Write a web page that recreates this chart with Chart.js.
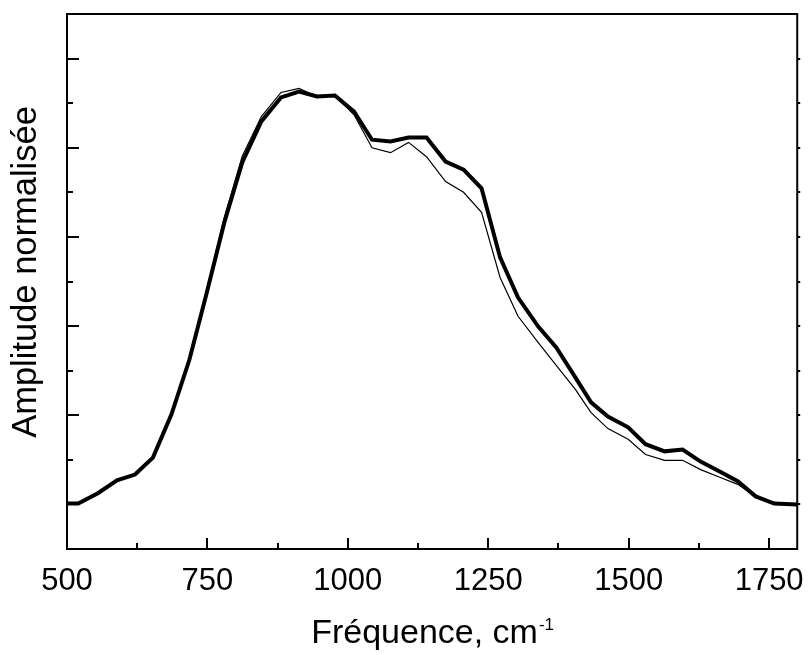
<!DOCTYPE html>
<html>
<head>
<meta charset="utf-8">
<script src="https://cdn.jsdelivr.net/npm/chart.js@4.4.1/dist/chart.umd.min.js"></script>
<style>
  html, body { margin: 0; padding: 0; background: #fff; }
  #wrap { width: 810px; height: 655px; }
</style>
</head>
<body>
<div id="wrap"><canvas id="myChart" width="810" height="655"></canvas></div>
<script>
// wavenumbers (cm-1)
const freq = [500, 520, 555, 589, 621, 653, 686, 718, 748, 780,
              812, 846, 881, 913, 945, 977, 1011, 1043, 1076, 1108,
              1140, 1174, 1206, 1238, 1271, 1303, 1339, 1371, 1405, 1433,
              1463, 1499, 1530, 1564, 1596, 1628, 1662, 1694, 1726, 1759, 1800];
// thick curve
const ampThick = [0.002, 0.002, 0.025, 0.054, 0.067, 0.105, 0.202, 0.325, 0.471, 0.632,
                  0.767, 0.859, 0.913, 0.926, 0.915, 0.917, 0.881, 0.818, 0.814, 0.823,
                  0.823, 0.769, 0.751, 0.709, 0.554, 0.464, 0.399, 0.352, 0.285, 0.229,
                  0.197, 0.173, 0.135, 0.119, 0.123, 0.096, 0.074, 0.052, 0.018, 0.002, 0.0];
// thin curve
const ampThin = [0.002, 0.002, 0.025, 0.054, 0.067, 0.105, 0.202, 0.327, 0.478, 0.643,
                 0.781, 0.870, 0.924, 0.933, 0.915, 0.917, 0.874, 0.800, 0.789, 0.812,
                 0.780, 0.724, 0.700, 0.655, 0.509, 0.422, 0.363, 0.312, 0.258, 0.206,
                 0.170, 0.146, 0.112, 0.099, 0.099, 0.078, 0.061, 0.045, 0.018, 0.002, 0.0];
const xTickLabels = [500, 750, 1000, 1250, 1500, 1750];
const xTickValues = [500, 625, 750, 875, 1000, 1125, 1250, 1375, 1500, 1625, 1750];

const FONT = "'Liberation Sans', Arial, sans-serif";

// inward ticks, frame and axis titles
const framePlugin = {
    id: 'frame',
    afterDraw(chart) {
        const {ctx, chartArea: a, scales: {x, y}} = chart;
        ctx.save();
        ctx.strokeStyle = '#000';
        ctx.lineWidth = 2;
        ctx.beginPath();
        x.ticks.forEach(t => {
            if (t.value <= 500 || t.value >= 1800) return;
            const px = Math.round(x.getPixelForValue(t.value));
            const len = t.value % 250 === 0 ? 11 : 6;
            ctx.moveTo(px, a.bottom);
            ctx.lineTo(px, a.bottom - len);
        });
        y.ticks.forEach(t => {
            const k = Math.round(t.value * 10);
            if (k < 0 || k > 10) return;
            const py = Math.round(y.getPixelForValue(t.value));
            const len = k % 2 === 0 ? 12 : 6;
            ctx.moveTo(a.left, py);
            ctx.lineTo(a.left + len, py);
            ctx.moveTo(a.right, py);
            ctx.lineTo(a.right + 3, py);
        });
        ctx.stroke();
        ctx.strokeRect(a.left, a.top, a.right - a.left, a.bottom - a.top);

        ctx.fillStyle = '#000';

        // y axis title
        ctx.save();
        ctx.translate(26, 272);
        ctx.rotate(-Math.PI / 2);
        ctx.textAlign = 'center';
        ctx.textBaseline = 'middle';
        ctx.font = '34.5px ' + FONT;
        ctx.fillText('Amplitude normalisée', 0, 0);
        ctx.restore();

        // x axis title
        const main = 'Fréquence, cm';
        const sup = '-1';
        ctx.textBaseline = 'alphabetic';
        ctx.textAlign = 'left';
        ctx.font = '34px ' + FONT;
        const w1 = ctx.measureText(main).width;
        ctx.font = '17px ' + FONT;
        const w2 = ctx.measureText(sup).width;
        const x0 = (a.left + a.right) / 2 - (w1 + w2) / 2;
        ctx.font = '34px ' + FONT;
        ctx.fillText(main, x0, 643);
        ctx.font = '17px ' + FONT;
        ctx.fillText(sup, x0 + w1 + 1, 630);
        ctx.restore();
    }
};

const ctx = document.getElementById('myChart').getContext('2d');

const myChart = new Chart(ctx, {
    type: 'line',
    data: {
        datasets: [{
            label: 'thick',
            data: freq.map((f, i) => ({x: f, y: ampThick[i]})),
            borderColor: '#000',
            borderWidth: 4,
            pointRadius: 0,
            tension: 0
        }, {
            label: 'thin',
            data: freq.map((f, i) => ({x: f, y: ampThin[i]})),
            borderColor: '#000',
            borderWidth: 1.2,
            pointRadius: 0,
            tension: 0
        }]
    },
    options: {
        responsive: false,
        animation: false,
        layout: { padding: { top: 14, right: 10, left: 0, bottom: 0 } },
        scales: {
            x: {
                type: 'linear',
                min: 500,
                max: 1800,
                afterFit: s => { s.height = 106; },
                afterBuildTicks: s => { s.ticks = xTickValues.map(v => ({value: v})); },
                grid: { display: false },
                border: { display: false },
                ticks: {
                    autoSkip: false,
                    maxRotation: 0,
                    padding: 6,
                    color: '#000',
                    font: { family: FONT, size: 31 },
                    callback: v => xTickLabels.includes(v) ? String(v) : ''
                }
            },
            y: {
                min: -0.1,
                max: 1.1,
                afterFit: s => { s.width = 67; },
                grid: { display: false },
                border: { display: false },
                ticks: { stepSize: 0.1, display: false }
            }
        },
        plugins: {
            legend: { display: false },
            tooltip: { enabled: false }
        }
    },
    plugins: [framePlugin]
});
</script>
</body>
</html>
